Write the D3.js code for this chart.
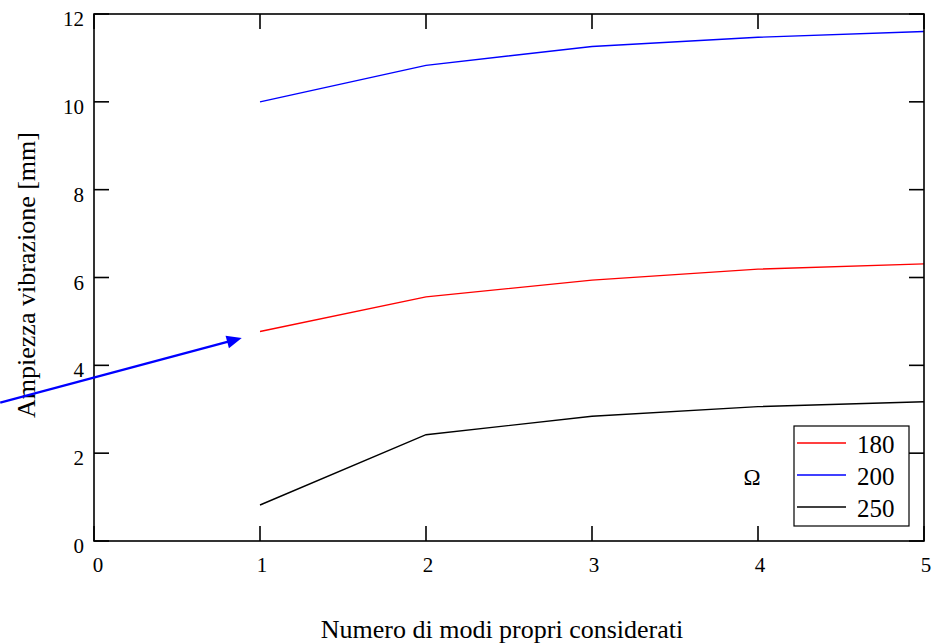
<!DOCTYPE html>
<html><head><meta charset="utf-8">
<script src="https://cdn.jsdelivr.net/npm/d3@7/dist/d3.min.js"></script>
<style>body{margin:0;background:#fff}svg{display:block}</style>
</head><body><svg id="c" width="935" height="644" font-family="Liberation Serif, DejaVu Serif, serif"></svg>
<script>
const modes = [1, 2, 3, 4, 5];
const omegaLabels = ["180", "200", "250"];
const amp180 = [4.77, 5.56, 5.94, 6.19, 6.31];
const amp200 = [10.0, 10.83, 11.26, 11.47, 11.6];
const amp250 = [0.82, 2.42, 2.84, 3.06, 3.17];
const xTicks = [0, 1, 2, 3, 4, 5];
const yTicks = [0, 2, 4, 6, 8, 10, 12];
const arrowFrom = [-0.565, 3.15];
const arrowTo = [0.89, 4.62];
const seriesColors = ["#ff0000", "#0000ff", "#000000"];

const svg = d3.select("#c");
const L = 94, R = 924, T = 14, B = 541;
const x = d3.scaleLinear().domain([0, 5]).range([L, R]);
const y = d3.scaleLinear().domain([0, 12]).range([B, T]);
const tl = 15;

const series = [amp180, amp200, amp250];
const line = d3.line().x((d, i) => x(modes[i])).y(d => y(d));
series.forEach((s, k) => {
  svg.append("path").attr("d", line(s)).attr("fill", "none")
    .attr("stroke", seriesColors[k]).attr("stroke-width", 1.4);
});

const g = svg.append("g").attr("stroke", "#000").attr("stroke-width", 1.6);
g.append("rect").attr("x", L).attr("y", T).attr("width", R - L).attr("height", B - T).attr("fill", "none");
xTicks.forEach(t => {
  g.append("line").attr("x1", x(t)).attr("x2", x(t)).attr("y1", B).attr("y2", B - tl);
  g.append("line").attr("x1", x(t)).attr("x2", x(t)).attr("y1", T).attr("y2", T + tl);
});
yTicks.forEach(t => {
  g.append("line").attr("x1", L).attr("x2", L + tl).attr("y1", y(t)).attr("y2", y(t));
  g.append("line").attr("x1", R).attr("x2", R - tl).attr("y1", y(t)).attr("y2", y(t));
});
xTicks.forEach(t => {
  svg.append("text").attr("x", x(t) + (t === 0 ? 4 : 2)).attr("y", 572).attr("text-anchor", "middle")
    .attr("font-size", 21).text(t);
});
yTicks.forEach(t => {
  svg.append("text").attr("x", 84).attr("y", y(t) + 12).attr("text-anchor", "end")
    .attr("font-size", 21).text(t);
});

svg.append("text").attr("x", 502).attr("y", 638).attr("text-anchor", "middle")
  .attr("font-size", 26).text("Numero di modi propri considerati");
svg.append("text").attr("transform", "translate(35,275) rotate(-90)").attr("text-anchor", "middle")
  .attr("font-size", 26).text("Ampiezza vibrazione [mm]");

const lg = svg.append("g");
lg.append("rect").attr("x", 794).attr("y", 426).attr("width", 115).attr("height", 100)
  .attr("fill", "#fff").attr("stroke", "#000").attr("stroke-width", 1.2);
omegaLabels.forEach((lab, i) => {
  const yy = 443 + i * 32;
  lg.append("line").attr("x1", 797).attr("x2", 846).attr("y1", yy).attr("y2", yy)
    .attr("stroke", seriesColors[i]).attr("stroke-width", 1.4);
  lg.append("text").attr("x", 857).attr("y", yy + 10).attr("font-size", 25).text(lab);
});
svg.append("text").attr("x", 752).attr("y", 485).attr("text-anchor", "middle").attr("font-size", 23).text("Ω");

const x1 = x(arrowFrom[0]), y1 = y(arrowFrom[1]), x2 = x(arrowTo[0]), y2 = y(arrowTo[1]);
const ang = Math.atan2(y2 - y1, x2 - x1);
const hl = 15, hw = 6.5;
const bx = x2 - hl * Math.cos(ang), by = y2 - hl * Math.sin(ang);
svg.append("line").attr("x1", x1).attr("y1", y1).attr("x2", bx + 2 * Math.cos(ang)).attr("y2", by + 2 * Math.sin(ang))
  .attr("stroke", "#0000ff").attr("stroke-width", 2.4);
const px = -Math.sin(ang), py = Math.cos(ang);
svg.append("path").attr("fill", "#0000ff")
  .attr("d", `M${x2},${y2}L${bx + hw * px},${by + hw * py}L${bx - hw * px},${by - hw * py}Z`);
</script></body></html>
